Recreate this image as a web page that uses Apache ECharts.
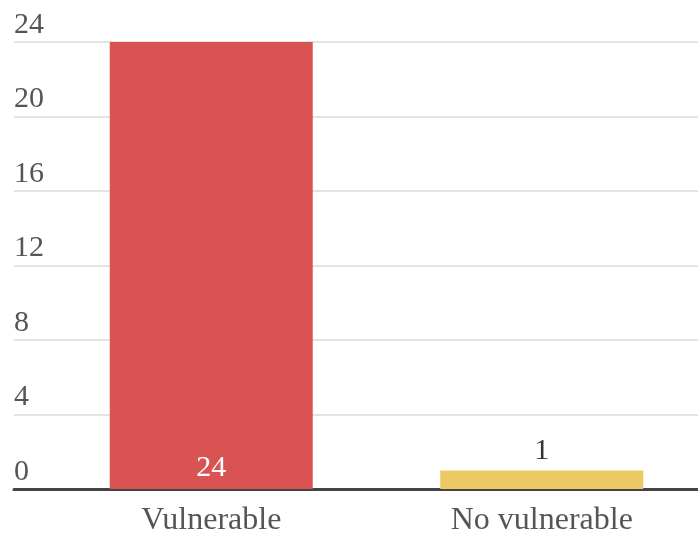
<!DOCTYPE html>
<html>
<head>
<meta charset="utf-8">
<script src="https://cdn.jsdelivr.net/npm/echarts@6/dist/echarts.min.js"></script>
<style>
  html, body { margin: 0; padding: 0; background: #fff; }
  #chart { width: 698px; height: 534px; }
</style>
</head>
<body>
<div id="chart"></div>
<script>
// Vulnerability count per group
const categories = ['Vulnerable', 'No vulnerable'];
const counts = [24, 1];
const barColors = ['#D95353', '#EDC966'];
const yTicks = { min: 0, max: 24, interval: 4 };

const FONT = '"Liberation Serif", "Times New Roman", serif';

const chart = echarts.init(document.getElementById('chart'));
chart.setOption({
  animation: false,
  grid: [
    // bars (category band runs slightly past the right edge)
    { left: 46, width: 661, top: 42, bottom: 45, outerBoundsMode: 'none' },
    // full-width value scale with gridlines and labels
    { left: 14, right: 0, top: 42, bottom: 45, outerBoundsMode: 'none' }
  ],
  xAxis: [
    {
      gridIndex: 0,
      type: 'category',
      data: categories,
      axisTick: { show: false },
      axisLine: { show: false },
      axisLabel: { color: '#555', fontFamily: FONT, fontSize: 32, margin: 16 }
    },
    {
      gridIndex: 1,
      type: 'value',
      min: 0, max: 1,
      show: true,
      axisLabel: { show: false },
      axisTick: { show: false },
      splitLine: { show: false },
      axisLine: { show: true, onZero: false, lineStyle: { color: '#444', width: 3 } }
    }
  ],
  yAxis: [
    {
      gridIndex: 0,
      type: 'value',
      min: yTicks.min, max: yTicks.max, interval: yTicks.interval,
      show: false
    },
    {
      gridIndex: 1,
      type: 'value',
      min: yTicks.min, max: yTicks.max, interval: yTicks.interval,
      axisLine: { show: false },
      axisTick: { show: false },
      splitLine: { show: true, lineStyle: { color: '#e3e3e3', width: 2 } },
      axisLabel: {
        inside: true,
        margin: 0,
        align: 'left',
        verticalAlign: 'bottom',
        padding: [0, 0, 2, 0],
        color: '#555',
        fontFamily: FONT,
        fontSize: 30
      }
    }
  ],
  series: [
    {
      type: 'bar',
      xAxisIndex: 0,
      yAxisIndex: 0,
      barWidth: 203,
      z: 1,
      data: counts.map((v, i) => ({
        value: v,
        itemStyle: { color: barColors[i] },
        label: i === 0
          ? { position: 'insideBottom', distance: 6, color: '#fff' }
          : { position: 'top', distance: 4, color: '#333' }
      })),
      label: { show: true, fontFamily: FONT, fontSize: 30 }
    }
  ]
});
</script>
</body>
</html>
